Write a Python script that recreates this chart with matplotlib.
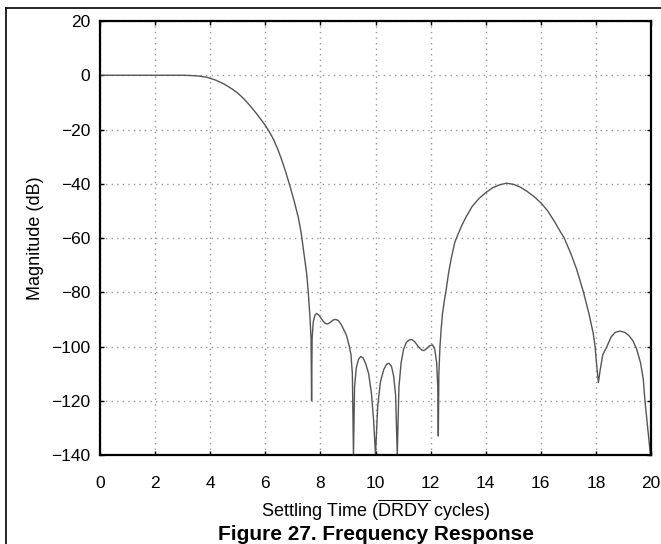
import matplotlib
matplotlib.use("Agg")
import matplotlib.pyplot as plt
from matplotlib.lines import Line2D

plt.rcParams['font.family'] = ['Liberation Sans', 'DejaVu Sans']
plt.rcParams['mathtext.fontset'] = 'custom'
plt.rcParams['mathtext.rm'] = 'Liberation Sans'
plt.rcParams['mathtext.it'] = 'Liberation Sans:italic'
plt.rcParams['mathtext.bf'] = 'Liberation Sans:bold'

# Settling time (DRDY cycles) and magnitude (dB)
settling_time = [
    0, 1, 2, 2.5, 3.0, 3.3, 3.6, 3.9, 4.2, 4.5, 4.8, 4.95, 5.1, 5.25, 5.4,
    5.55, 5.7, 5.85, 6.0,
    6.15, 6.3, 6.45, 6.6, 6.75, 6.9, 7.05, 7.2, 7.3, 7.4, 7.5, 7.56, 7.62,
    7.66, 7.68,
    7.70, 7.74, 7.80, 7.86, 7.95, 8.05, 8.15, 8.25, 8.35, 8.45, 8.55, 8.65,
    8.75, 8.85, 8.95, 9.05, 9.11, 9.16, 9.20,
    9.24, 9.30, 9.38, 9.46, 9.55, 9.65, 9.75, 9.85, 9.93, 10.0,
    10.08, 10.18, 10.30, 10.40, 10.49, 10.58, 10.66, 10.73, 10.79,
    10.85, 10.93, 11.02, 11.12, 11.22, 11.31, 11.42, 11.55, 11.68, 11.76,
    11.85, 11.95, 12.07, 12.15, 12.22, 12.26, 12.28,
    12.30, 12.34, 12.38, 12.43, 12.50, 12.56, 12.65, 12.75, 12.88, 13.0,
    13.15, 13.3, 13.5, 13.75, 14.0, 14.25, 14.5, 14.75, 15.0, 15.25, 15.5,
    15.75, 16.0, 16.25, 16.5, 16.7, 16.85, 17.1, 17.3, 17.55, 17.75, 17.9,
    17.97, 18.03, 18.09,
    18.15, 18.25, 18.4, 18.55, 18.7, 18.87, 19.05, 19.2, 19.35, 19.48,
    19.62, 19.72, 19.78, 19.86, 19.93, 19.98,
]
magnitude_db = [
    0, 0, 0, 0, 0, -0.1, -0.3, -0.8, -1.8, -3.2, -5.1, -6.2, -7.5, -9.0, -10.7,
    -12.5, -14.4, -16.4, -18.5,
    -20.9, -23.7, -27.2, -31.3, -36, -41, -46.5, -52.5, -58, -65.5, -73, -80, -89,
    -97, -120,
    -97, -91, -88.5, -87.8, -88.5, -90, -91.3, -91.7, -91.2, -90.3, -90, -90.4,
    -91.8, -93.8, -96, -100, -103, -110, -140,
    -115, -108, -104.8, -103.7, -104.2, -106.5, -110, -117, -127, -140,
    -122, -113, -108.5, -106.6, -106.2, -107.3, -111, -118, -140,
    -115, -106, -101, -98.5, -97.6, -97.4, -98.2, -100, -101.3, -101.5,
    -100.8, -99.8, -99.4, -101, -106, -115, -133,
    -110, -100, -94, -88, -83, -79.5, -73, -67.5, -61.5, -58.5,
    -55, -52, -48.5, -45.5, -43.3, -41.5, -40.4, -39.8, -40.2, -41.2, -42.8,
    -44.7, -47, -50, -54, -57.5, -60, -66, -71.5, -80, -88, -95,
    -100, -107, -113.3,
    -109, -103, -100, -96.5, -94.8, -94.3, -94.8, -96, -98, -101,
    -106, -112, -120, -128, -135, -140,
]

x_ticks = [0, 2, 4, 6, 8, 10, 12, 14, 16, 18, 20]
y_ticks = [20, 0, -20, -40, -60, -80, -100, -120, -140]

fig = plt.figure(figsize=(6.61, 5.44), dpi=100)
ax = fig.add_axes([100 / 661, 1 - 455 / 544, 551 / 661, 434 / 544])

ax.plot(settling_time, magnitude_db, color='#555555', linewidth=1.0,
        solid_joinstyle='round')

ax.set_xlim(0, 20)
ax.set_ylim(-140, 20)
ax.set_xticks(x_ticks)
ax.set_yticks(y_ticks)
ax.grid(True, color='#9a9a9a', linestyle=(0, (1, 3)), linewidth=1.0)
ax.tick_params(direction='in', top=True, right=True, length=3, width=1,
               labelsize=12.5, colors='black')
ax.tick_params(axis='x', pad=15)
ax.tick_params(axis='y', pad=7)
for s in ax.spines.values():
    s.set_linewidth(1.6)
    s.set_color('black')

ax.set_ylabel('Magnitude (dB)', fontsize=13, labelpad=5)
ax.set_xlabel(r'Settling Time ($\overline{\mathrm{DRDY}}$ cycles)', fontsize=13,
              labelpad=5)
fig.text(0.5 * (100 + 651) / 661, 1 - 535 / 544, 'Figure 27. Frequency Response',
         ha='center', va='center', fontsize=15, fontweight='bold')

# page frame (top and left rules)
fig.add_artist(Line2D([6 / 661, 1.0], [1 - 8 / 544, 1 - 8 / 544],
                      color='black', linewidth=1.2, transform=fig.transFigure))
fig.add_artist(Line2D([6 / 661, 6 / 661], [1 - 8 / 544, 0.0],
                      color='black', linewidth=1.2, transform=fig.transFigure))

fig.savefig('out.png', dpi=100)
